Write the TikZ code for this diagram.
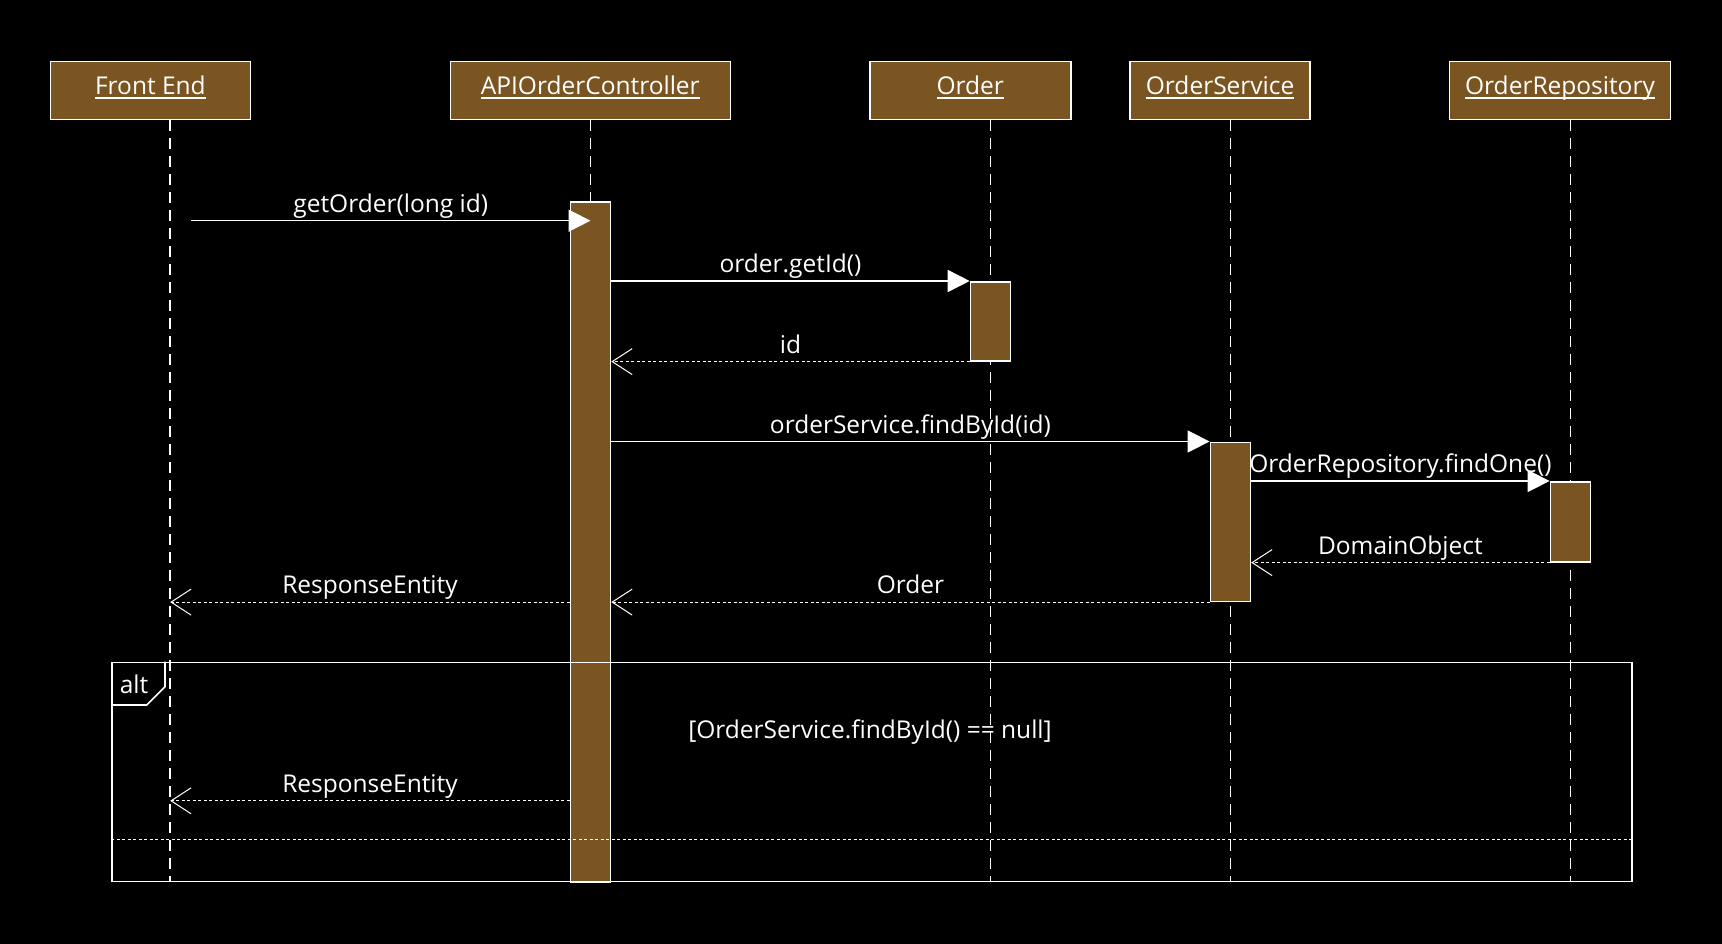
\documentclass[tikz,border=0pt]{standalone}
\usepackage{fontspec}
\setmainfont{Open Sans}
\usetikzlibrary{arrows.meta,calc}
\definecolor{actfill}{RGB}{122,85,34}
\newcommand\ulx[1]{\setbox0\hbox{#1}\rlap{\rule[-4pt]{\wd0}{1.6pt}}\box0}
\begin{document}
\begin{tikzpicture}[x=1pt,y=-1pt,
  hdr/.style={draw=white, line width=1.6pt, fill=actfill, minimum height=58pt, inner sep=0pt, text=white, font=\fontsize{24.5}{28}\selectfont, text height=17pt, text depth=8.6pt},
  bar/.style={draw=white, line width=1.6pt, fill=actfill, minimum width=40pt, inner sep=0pt, anchor=north},
  life/.style={white, line width=1.5pt, dash pattern=on 11pt off 7pt},
  call/.style={white, line width=1.5pt, -{Triangle[length=22pt,width=22pt]}},
  ret/.style={white, line width=1pt, dash pattern=on 3pt off 2.5pt, -{Straight Barb[length=20pt,width=26pt,line width=1pt]}},
  lbl/.style={text=white, font=\fontsize{24.5}{28}\selectfont, inner sep=0pt},
  ml/.style={lbl, midway, anchor=base, yshift=8.5pt},
  frm/.style={draw=white, line width=1.6pt, inner sep=0pt}
]
\fill[black] (0,0) rectangle (1722,944);
\useasboundingbox (0,0) rectangle (1722,944);

% headers
\node[hdr, minimum width=200pt] (fe) at (150.4,90.6) {\ulx{Front End}};
\node[hdr, minimum width=280pt] (api) at (590.3,90.6) {\ulx{APIOrderController}};
\node[hdr, minimum width=201pt] (ord) at (970.3,90.6) {\ulx{Order}};
\node[hdr, minimum width=180pt] (os) at (1220.1,90.6) {\ulx{OrderService}};
\node[hdr, minimum width=221pt] (orp) at (1560,90.6) {\ulx{OrderRepository}};

% lifelines
\coordinate (feT) at (170.2,120);  \coordinate (feB) at (170.2,881);
\coordinate (apiT) at (590.5,120); \coordinate (apiB) at (590.5,881);
\coordinate (ordT) at (990.5,120); \coordinate (ordB) at (990.5,881);
\coordinate (osT) at (1230.4,120); \coordinate (osB) at (1230.4,881);
\coordinate (orT) at (1570.4,120); \coordinate (orB) at (1570.4,881);
\foreach \l in {fe,api,ord,os,or} \draw[life] (\l T) -- (\l B);

% activation bars
\node[bar, minimum height=680pt] (apiA) at (590.5,201) {};
\node[bar, minimum height=79pt] (ordA) at (990.5,281) {};
\node[bar, minimum height=159pt] (osA) at (1230.4,441.5) {};
\node[bar, minimum height=80pt] (orA) at (1570.4,481) {};

% messages
\coordinate (m1s) at (191,220.7);
\draw[call] (m1s) -- (m1s -| apiA.center) node[ml] {getOrder(long id)};
\draw[call] (apiA.east |- ordA.north) -- (ordA.north west) node[ml] {order.getId()};
\draw[ret] (ordA.south west) -- (apiA.east |- ordA.south) node[ml] {id};
\draw[call] (apiA.east |- osA.north) -- (osA.north west) node[ml] {orderService.findById(id)};
\draw[call] (osA.east |- orA.north) -- (orA.north west) node[ml] {OrderRepository.findOne()};
\draw[ret] (orA.south west) -- (osA.east |- orA.south) node[ml] {DomainObject};
\draw[ret] (osA.south west) -- (apiA.east |- osA.south) node[ml] {Order};
\draw[ret] (apiA.west |- osA.south) -- (feT |- osA.south) node[ml] {ResponseEntity};

% alt frame
\node[frm, minimum width=1520pt, minimum height=219pt, anchor=north west] (altF) at (111,661.5) {};
\draw[white, line width=1.6pt] (altF.north west) ++(54,0) -- ++(0,25.2) -- ++(-18.3,18.3) -- ++(-35.7,0);
\node[lbl, anchor=base] (altL) at (134,693) {alt};
\node[lbl] (guard) at (870,732.5) {[OrderService.findById() == null]};
\coordinate (m9y) at (0,800.8);
\draw[ret] (apiA.west |- m9y) -- (feT |- m9y) node[ml] {ResponseEntity};
\coordinate (sepy) at (0,839);
\draw[white, line width=1pt, dash pattern=on 3pt off 2.5pt] (altF.west |- sepy) -- (altF.east |- sepy);
\end{tikzpicture}
\end{document}
